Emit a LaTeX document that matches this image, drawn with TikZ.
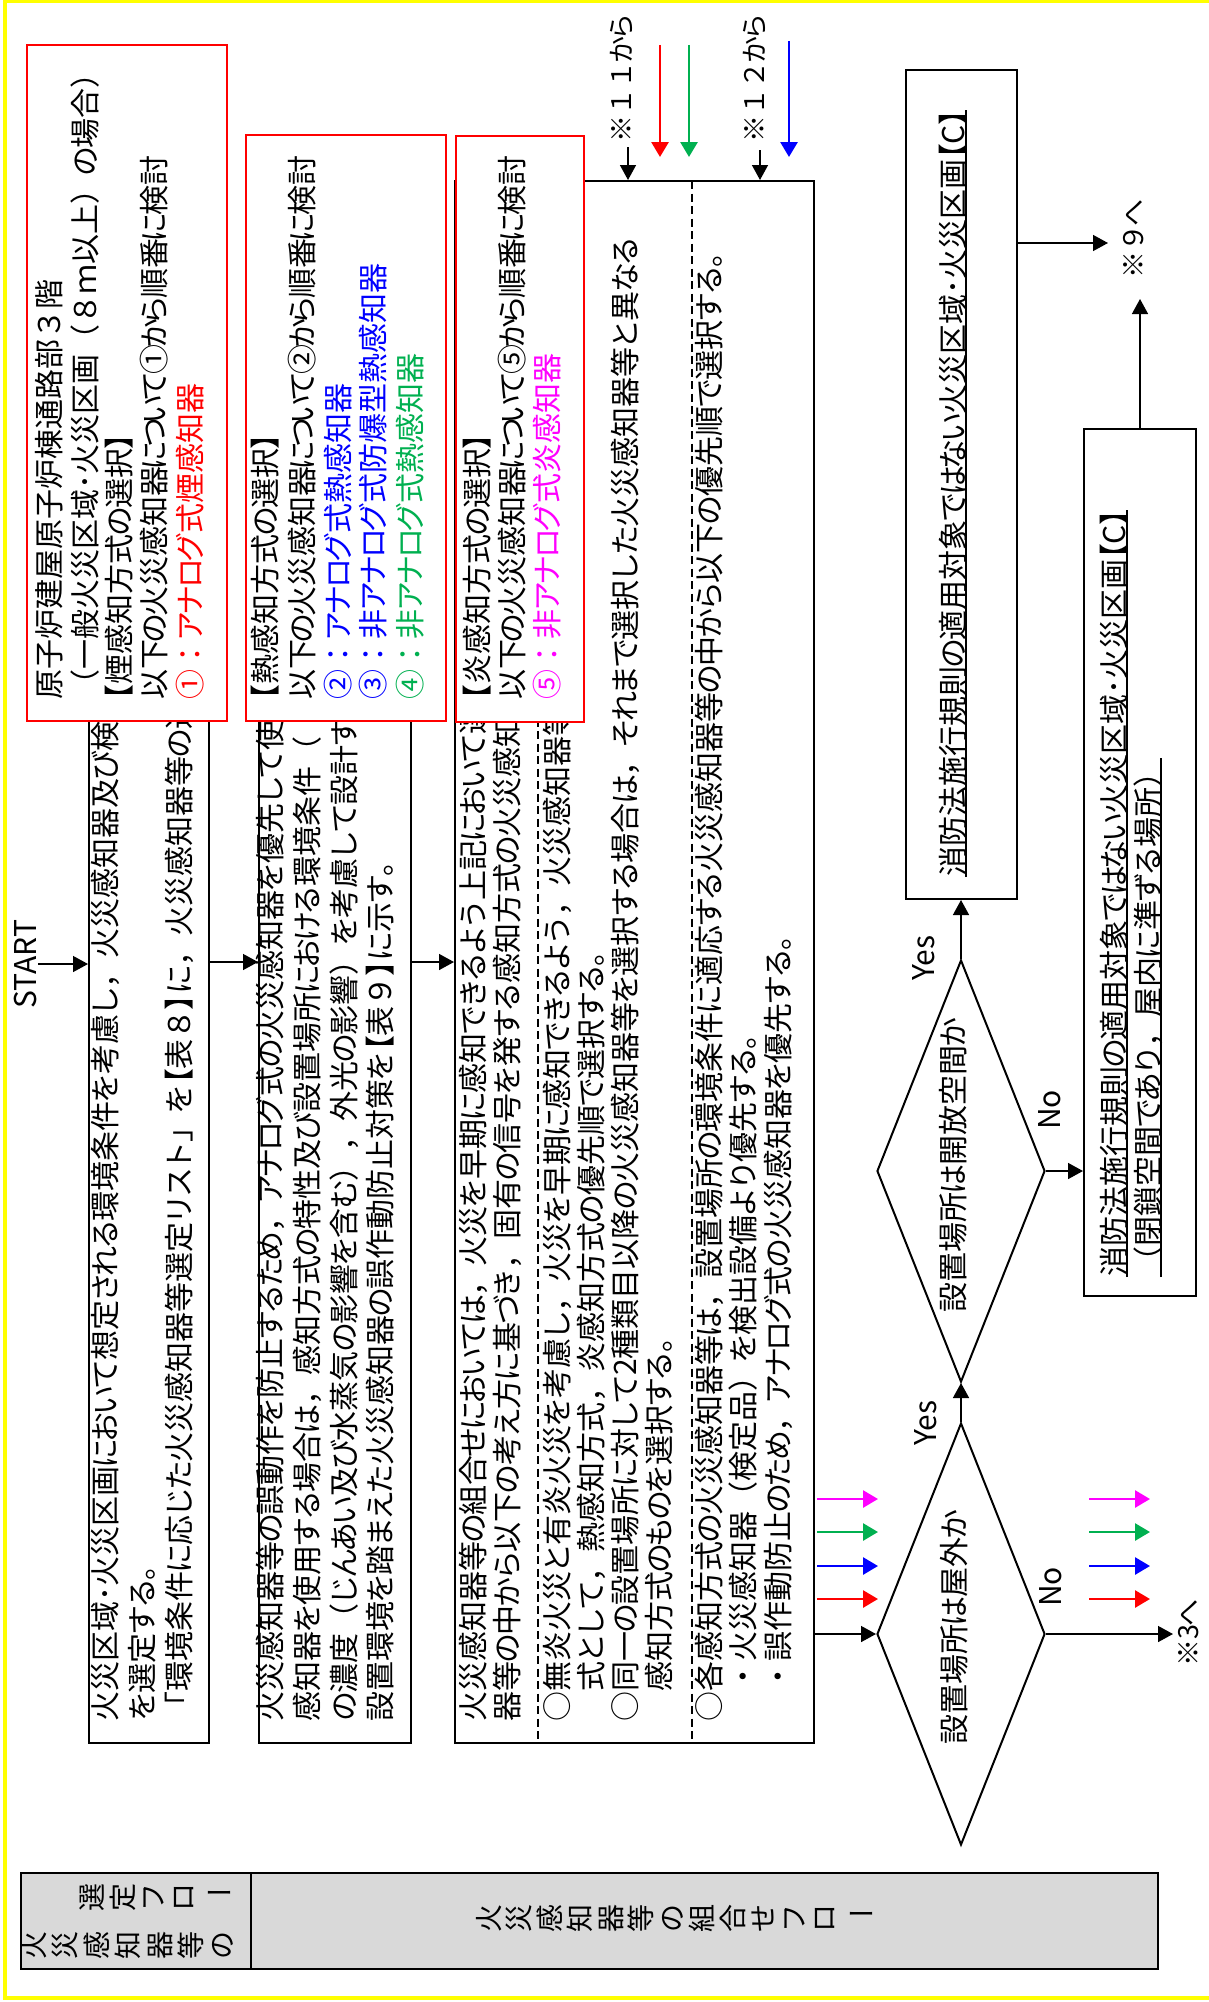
\documentclass[tikz,border=0pt]{standalone}
\usepackage{fontspec}
\newfontscript{KanaScr}{kana}
\setmainfont{Noto Sans CJK JP}[Script=KanaScr]
\usetikzlibrary{arrows.meta,calc,shapes.geometric}
\definecolor{cred}{HTML}{FF0000}
\definecolor{cblue}{HTML}{0000FF}
\definecolor{cgreen}{HTML}{00B050}
\definecolor{cmag}{HTML}{FF00FF}
\definecolor{hdgrey}{HTML}{D9D9D9}
\definecolor{ybord}{HTML}{FFFF00}
\newcommand\fz[1]{\fontsize{#1}{#1}\selectfont}
\newcommand\hb[1]{{\addfontfeature{RawFeature=+palt}#1}}
% proportional kana: narrow every kana by a fixed amount
\XeTeXinterchartokenstate=1
\newXeTeXintercharclass\KanaCls
\newcount\kc
\kc="3041 \loop\ifnum\kc<"3097 \XeTeXcharclass\kc=\KanaCls \advance\kc by 1 \repeat
\kc="30A1 \loop\ifnum\kc<"30FB \XeTeXcharclass\kc=\KanaCls \advance\kc by 1 \repeat
\newcommand\setkana[2]{%
  \XeTeXinterchartoks 0 \KanaCls={\kern#1}%
  \XeTeXinterchartoks 1 \KanaCls={\kern#1}%
  \XeTeXinterchartoks 2 \KanaCls={\kern#1}%
  \XeTeXinterchartoks 3 \KanaCls={\kern#1}%
  \XeTeXinterchartoks \KanaCls 0={\kern#1}%
  \XeTeXinterchartoks \KanaCls 1={\kern#1}%
  \XeTeXinterchartoks \KanaCls 2={\kern#1}%
  \XeTeXinterchartoks \KanaCls 3={\kern#1}%
  \XeTeXinterchartoks \KanaCls \KanaCls={\kern#2}}
\setkana{-1.75pt}{-3.5pt}
\begin{document}
\begin{tikzpicture}[x=1pt,y=-1pt,
  tl/.style={rotate=90,anchor=west,inner sep=0pt,text height=0.88em,text depth=0.12em,font=\fz{30}},
  lbl/.style={rotate=90,inner sep=0pt,text height=0.88em,text depth=0.12em,font=\fz{30}},
  note/.style={rotate=90,inner sep=0pt,text height=0.88em,text depth=0.12em,font=\fz{27}},
  hd/.style={rotate=90,inner sep=0pt,text height=0.88em,text depth=0.12em,font=\fz{28}},
  hdflat/.style={inner sep=0pt,font=\fz{28}},
  bbox/.style={draw=black,line width=2pt,fill=white,inner sep=0pt},
  rbox/.style={draw=cred,line width=2pt,fill=white,inner sep=0pt},
  arr/.style={line width=1.5pt,-{Triangle[length=15pt,width=16pt]}},
  carr/.style={line width=2.8pt,-{Triangle[length=15pt,width=17pt]}},
  dsh/.style={line width=1.3pt,dash pattern=on 8pt off 4.5pt},
  dmd/.style={draw,line width=2pt,diamond,inner sep=0pt,minimum width=168pt,minimum height=422pt},
  uline/.style={line width=1.5pt}
]
\useasboundingbox (0,0) rectangle (1208,2002);
\fill[white] (0,0) rectangle (1208,2002);
% yellow frame
\draw[ybord,line width=3.5pt] (1215,1) -- (5,1) -- (5,1998) -- (1215,1998);

% header band
\draw[line width=1.5pt,fill=hdgrey] (21,1873) rectangle (1158,1969);
\draw[line width=1.5pt] (251,1873) -- (251,1969);
\foreach \c [count=\i from 0] in {火,災,感,知,器,等,の}
  \node[hd] (ha\i) at ({40.7+31.4*\i},1945) {\c};
\foreach \c [count=\i from 0] in {選,定,フ,ロ}
  \node[hd] (hb\i) at ({99.1+30.2*\i},1897) {\c};
\node[hdflat] (hb4) at ({99.1+30.2*4},1897) {ー};
\foreach \c [count=\i from 0] in {火,災,感,知,器,等,の,組,合,せ,フ,ロ}
  \node[hd] (hc\i) at ({495.3+30.5*\i},1918) {\c};
\node[hdflat] (hc12) at ({495.3+30.5*12},1918) {ー};

% main process boxes
\node[bbox,minimum width=120pt,minimum height=1562pt] (B1) at (149,962) {};
\node[bbox,minimum width=152pt,minimum height=1562pt] (B2) at (335,962) {};
\node[bbox,minimum width=359pt,minimum height=1562pt] (B3) at (634.5,962) {};
\draw[dsh] (538,181) -- (538,1743);
\draw[dsh] (692,181) -- (692,1743);

\node[tl] (b1a) at (113,1722) {火災区域･火災区画において想定される環境条件を考慮し，火災感知器及び検};
\node[tl] (b1b) at (150,1722) {を選定する。};
\node[tl] (b1c) at (187,1722) {「環境条件に応じた火災感知器等選定リスト」を\hb{【}表８\hb{】}に，火災感知器等の選};

\node[tl] (b2a) at (278,1722) {火災感知器等の誤動作を防止するため，アナログ式の火災感知器を優先して使用};
\node[tl] (b2b) at (315,1722) {感知器を使用する場合は，感知方式の特性及び設置場所における環境条件（};
\node[tl] (b2c) at (352,1722) {の濃度（じんあい及び水蒸気の影響を含む），外光の影響）を考慮して設計す};
\node[tl] (b2d) at (388,1722) {設置環境を踏まえた火災感知器の誤作動防止対策を\hb{【}表９\hb{】}に示す。};

\node[tl] (b3a) at (481,1722) {火災感知器等の組合せにおいては，火災を早期に感知できるよう上記において選};
\node[tl] (b3b) at (515,1722) {器等の中から以下の考え方に基づき，固有の信号を発する感知方式の火災感知};
\node[tl] (b3c) at (565,1722) {○無炎火災と有炎火災を考慮し，火災を早期に感知できるよう，火災感知器等};
\node[tl] (b3d) at (599,1722) {\phantom{○}式として，熱感知方式，炎感知方式の優先順で選択する。};
\node[tl] (b3e) at (633,1722) {○同一の設置場所に対して2種類目以降の火災感知器等を選択する場合は，それまで選択した火災感知器等と異なる};
\node[tl] (b3f) at (667,1722) {\phantom{○}感知方式のものを選択する。};
\node[tl] (b3g) at (717,1722) {○各感知方式の火災感知器等は，設置場所の環境条件に適応する火災感知器等の中から以下の優先順で選択する。};
\node[tl] (b3h) at (751,1722) {\phantom{○}・火災感知器（検定品）を検出設備より優先する。};
\node[tl] (b3i) at (786,1722) {\phantom{○}・誤作動防止のため，アナログ式の火災感知器を優先する。};

% red boxes
\node[rbox,minimum width=200pt,minimum height=676pt] (R1) at (127,383) {};
\node[rbox,minimum width=200pt,minimum height=586pt] (R2) at (346,428) {};
\node[rbox,minimum width=128pt,minimum height=586pt] (R3) at (520,429) {};

\node[tl] (r1a) at (57,700) {原子炉建屋原子炉棟通路部３階};
\node[tl] (r1b) at (93,700) {（一般火災区域･火災区画（８ｍ以上）の場合）};
\node[tl] (r1c) at (127,700) {\hb{【}煙感知方式の選択\hb{】}};
\node[tl] (r1d) at (162,700) {\setkana{-3.5pt}{-7pt}以下の火災感知器について①から順番に検討};
\node[tl,text=cred] (r1e) at (198,700) {①：アナログ式煙感知器};

\node[tl] (r2a) at (273,700) {\hb{【}熱感知方式の選択\hb{】}};
\node[tl] (r2b) at (310,700) {\setkana{-3.5pt}{-7pt}以下の火災感知器について②から順番に検討};
\node[tl,text=cblue] (r2c) at (346,700) {②：アナログ式熱感知器};
\node[tl,text=cblue] (r2d) at (381,700) {③：非アナログ式防爆型熱感知器};
\node[tl,text=cgreen] (r2e) at (418,700) {④：非アナログ式熱感知器};

\node[tl] (r3a) at (485,700) {\hb{【}炎感知方式の選択\hb{】}};
\node[tl] (r3b) at (520,700) {\setkana{-3.5pt}{-7pt}以下の火災感知器について⑤から順番に検討};
\node[tl,text=cmag] (r3c) at (555,700) {⑤：非アナログ式炎感知器};

% start
\node[lbl] (st) at (33,964) {START};
\draw[arr] (st.south) -- (st.south -| B1.west);
\draw[arr] (B1.east) -- (B2.west);
\draw[arr] (B2.east) -- (B3.west);

% decisions
\node[dmd] (D2) at (961,1171) {};
\node[dmd] (D1) at (961,1634) {};
\node[lbl] (D2t) at (961,1165) {設置場所は開放空間か};
\node[lbl] (D1t) at (962,1627) {設置場所は屋外か};

% result boxes
\node[bbox,minimum width=111pt,minimum height=829pt] (B5) at (961,484.5) {};
\node[bbox,minimum width=112pt,minimum height=867pt] (B6) at (1140,862.5) {};
\node[tl] (b5t) at (961,877) {消防法施行規則の適用対象ではない火災区域･火災区画\hb{【}C\hb{】}};
\node[tl] (b6a) at (1122,1277) {消防法施行規則の適用対象ではない火災区域･火災区画\hb{【}C\hb{】}};
\node[tl] (b6b) at (1156,1277) {（閉鎖空間であり，屋内に準ずる場所）};
\draw[uline] (b5t.south west) -- (b5t.south east);
\draw[uline] (b6a.south west) -- (b6a.south east);
\draw[uline] (b6b.south west) -- (b6b.south east);

% labels
\node[lbl] (y2) at (931,958) {Yes};
\node[lbl] (y1) at (933,1423) {Yes};
\node[lbl] (n2) at (1057,1110) {No};
\node[lbl] (n1) at (1058,1587) {No};
\node[note] (to3) at (1195,1633) {※3へ};
\node[note] (to9) at (1140,239) {※９へ};
\node[note] (f11) at (628,78) {※１１から};
\node[note] (f12) at (761,78) {※１２から};

% connectors
\draw[arr] (B3.east |- D1) -- (D1.west);
\draw[arr] (D1.north) -- (D2.south);
\draw[arr] (D2.north) -- (B5.south);
\draw[arr] (D2.east) -- (D2.east -| B6.west);
\coordinate (c3) at (1173,1634);
\draw[arr] (D1.east) -- (c3);
\coordinate (c9) at (1108,243);
\draw[arr] (B5.east |- c9) -- (c9);
\coordinate (c9b) at (1140,299);
\draw[arr] (B6.north) -- (c9b);
\coordinate (t11) at (628,147);
\draw[arr] (t11) -- (t11 |- B3.north);
\coordinate (t12) at (760,150);
\draw[arr] (t12) -- (t12 |- B3.north);

% coloured arrows at the top
\coordinate (tra) at (660,45); \coordinate (trb) at (660,157);
\coordinate (tga) at (689,45); \coordinate (tgb) at (689,157);
\coordinate (tba) at (789,41); \coordinate (tbb) at (789,157);
\draw[carr,color=cred] (tra) -- (trb);
\draw[carr,color=cgreen] (tga) -- (tgb);
\draw[carr,color=cblue] (tba) -- (tbb);

% coloured arrows at the lower decision
\foreach \yy/\cc [count=\i] in {1499/cmag,1532/cgreen,1566/cblue,1599/cred}{
  \coordinate (la\i) at (817,\yy); \coordinate (lb\i) at (878,\yy);
  \coordinate (ra\i) at (1089,\yy); \coordinate (rb\i) at (1150,\yy);
  \draw[carr,color=\cc] (la\i) -- (lb\i);
  \draw[carr,color=\cc] (ra\i) -- (rb\i);
}
\end{tikzpicture}
\end{document}
